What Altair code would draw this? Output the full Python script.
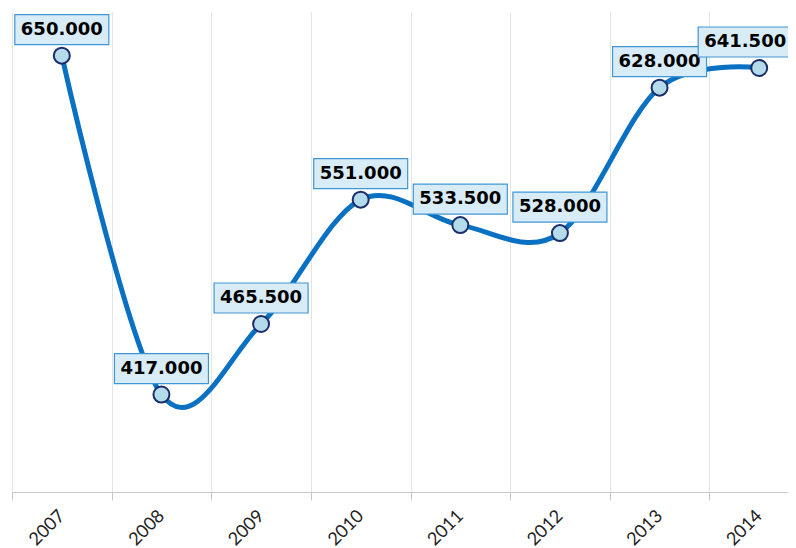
import altair as alt
import pandas as pd

years = ["2007", "2008", "2009", "2010", "2011", "2012", "2013", "2014"]
values = [650000, 417000, 465500, 551000, 533500, 528000, 628000, 641500]
labels = [f"{v:,.0f}".replace(",", ".") for v in values]

df = pd.DataFrame({"year": years, "value": values, "label": labels})

x_enc = alt.X(
    "year:N",
    sort=years,
    title=None,
    scale=alt.Scale(range=[0, 797], paddingInner=0, paddingOuter=0, round=False),
    axis=alt.Axis(
        tickBand="extent",
        grid=True,
        gridColor="#e4e4e4",
        gridWidth=1,
        domainColor="#c8c8c8",
        tickColor="#c8c8c8",
        tickSize=8,
        labelAngle=-45,
        labelAlign="right",
        labelBaseline="middle",
        labelPadding=13,
        labelFont="Lato",
        labelFontSize=18,
        labelColor="#222222",
    ),
)
y_enc = alt.Y("value:Q", axis=None, scale=alt.Scale(domain=[350000, 680000], nice=False, zero=False))

base = alt.Chart(df).encode(x=x_enc, y=y_enc)

line = base.mark_line(interpolate="cardinal", color="#0a70c2", strokeWidth=5)
pts = base.mark_point(
    shape="circle", size=256, filled=True, fill="#b3dbea", stroke="#1b2d6b", strokeWidth=2, opacity=1
)

box_style = dict(
    shape="M-1,-0.8723L1,-0.8723L1,-0.234L-1,-0.234Z",
    size=8836,
    filled=True,
    fill="#d8ecf7",
    stroke="#4096d4",
    strokeWidth=1.2,
    opacity=1,
)
text_style = dict(
    dy=-26, baseline="middle", align="center", font="DejaVu Sans", fontWeight="bold", fontSize=18, color="#000000"
)

inner = base.transform_filter(alt.datum.year != "2014")
edge = base.transform_filter(alt.datum.year == "2014")

boxes = inner.mark_point(**box_style)
texts = inner.mark_text(**text_style).encode(text="label:N")
boxes_edge = edge.mark_point(xOffset=-14, **box_style)
texts_edge = edge.mark_text(dx=-14, **text_style).encode(text="label:N")

chart = (
    alt.layer(line, pts, boxes, texts, boxes_edge, texts_edge)
    .properties(width=776, height=480, autosize="none", padding={"left": 4, "top": 4, "right": 0, "bottom": 56})
    .configure_view(stroke=None)
)

chart.save("out.html", embed_options={"renderer": "svg", "actions": False})
